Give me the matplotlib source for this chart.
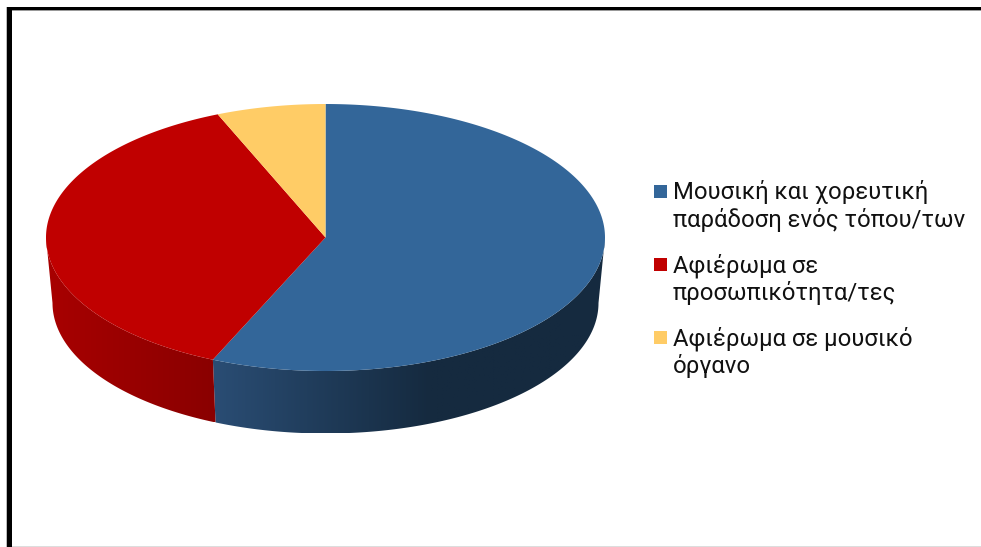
import numpy as np
import matplotlib
matplotlib.use("Agg")
import matplotlib.pyplot as plt
from matplotlib.colors import to_rgb
from matplotlib.patches import Rectangle, Polygon

plt.rcParams['font.family'] = ['Roboto', 'DejaVu Sans']

# shares, clockwise from 12 o'clock
labels = ["Μουσική και χορευτική\nπαράδοση ενός τόπου/των",
          "Αφιέρωμα σε\nπροσωπικότητα/τες",
          "Αφιέρωμα σε μουσικό\nόργανο"]
shares = [56.6, 37.1, 6.3]
colors = ["#336699", "#C00000", "#FFCC66"]

# side shading: colour at the left and right end of the x range of each slice
side_left = ["#2a4d74", "#a80000", "#cc9f4f"]
side_right = ["#152a3f", "#8a0000", "#cc9f4f"]

# pie shape in pixels
cx, cy, rx, ry = 325.5, 237.5, 279.5, 133.5
cx2, cy2, rx2, ry2 = 325.5, 303, 273, 130.5


def top_pt(t):
    return cx + rx * np.sin(t), cy - ry * np.cos(t)


def bottom_pt(t):
    return cx2 + rx2 * np.sin(t), cy2 - ry2 * np.cos(t)


fig = plt.figure(figsize=(9.81, 5.47), dpi=100)
ax = fig.add_axes([0, 0, 1, 1])
ax.axis("off")

# frame
ax.add_patch(Rectangle((6, 10), 975, 1.2, color="#999999", lw=0))
ax.add_patch(Rectangle((6, 7), 1, 540, color="#bbbbbb", lw=0))
ax.add_patch(Rectangle((7, 7), 974, 3.3, color="black", lw=0))
ax.add_patch(Rectangle((7, 7), 5, 540, color="black", lw=0))
ax.add_patch(Rectangle((12, 545.8), 969, 1.2, color="#dddddd", lw=0))

edges = np.radians(np.concatenate([[0], np.cumsum(shares)]) * 3.6)

# rim first, only the part facing the viewer; gradient image clipped to the rim shape
for i in range(len(shares)):
    a = max(edges[i], np.pi / 2)
    b = min(edges[i + 1], 3 * np.pi / 2)
    if a >= b:
        continue
    ts = np.linspace(a, b, 200)
    xt, yt = top_pt(ts)
    xb, yb = bottom_pt(ts)
    px = np.r_[xt, xb[::-1]]
    py = np.r_[yt, yb[::-1]]
    if i == 0:
        x0, x1 = xt.min(), 430
    else:
        x0, x1 = xt.min(), xt.max()
    grid = np.linspace(px.min(), px.max(), 400)
    f = np.clip((grid - x0) / (x1 - x0), 0, 1)[None, :, None]
    img = np.array(to_rgb(side_left[i]))[None, None, :] * (1 - f) + np.array(to_rgb(side_right[i]))[None, None, :] * f
    clip = Polygon(np.c_[px, py], closed=True, transform=ax.transData, fc="none", lw=0)
    ax.add_patch(clip)
    im = ax.imshow(img, extent=(px.min(), px.max(), py.max(), py.min()), aspect="auto", interpolation="bilinear")
    im.set_clip_path(clip)

# top of the pie
for i in range(len(shares)):
    ts = np.linspace(edges[i], edges[i + 1], 200)
    xs, ys = top_pt(ts)
    ax.fill(np.r_[cx, xs], np.r_[cy, ys], color=colors[i], lw=0)

# legend
key_tops = [185, 258, 331]
for label, col, ky in zip(labels, colors, key_tops):
    ax.add_patch(Rectangle((654, ky), 13, 13, color=col, lw=0))
    for n, line in enumerate(label.split("\n")):
        ax.text(673, ky + 14.5 + n * 27.5, line, fontsize=17.2, color="#111111",
                va="baseline", ha="left")

ax.set_xlim(0, 981)
ax.set_ylim(547, 0)
fig.savefig("out.png", dpi=100)
